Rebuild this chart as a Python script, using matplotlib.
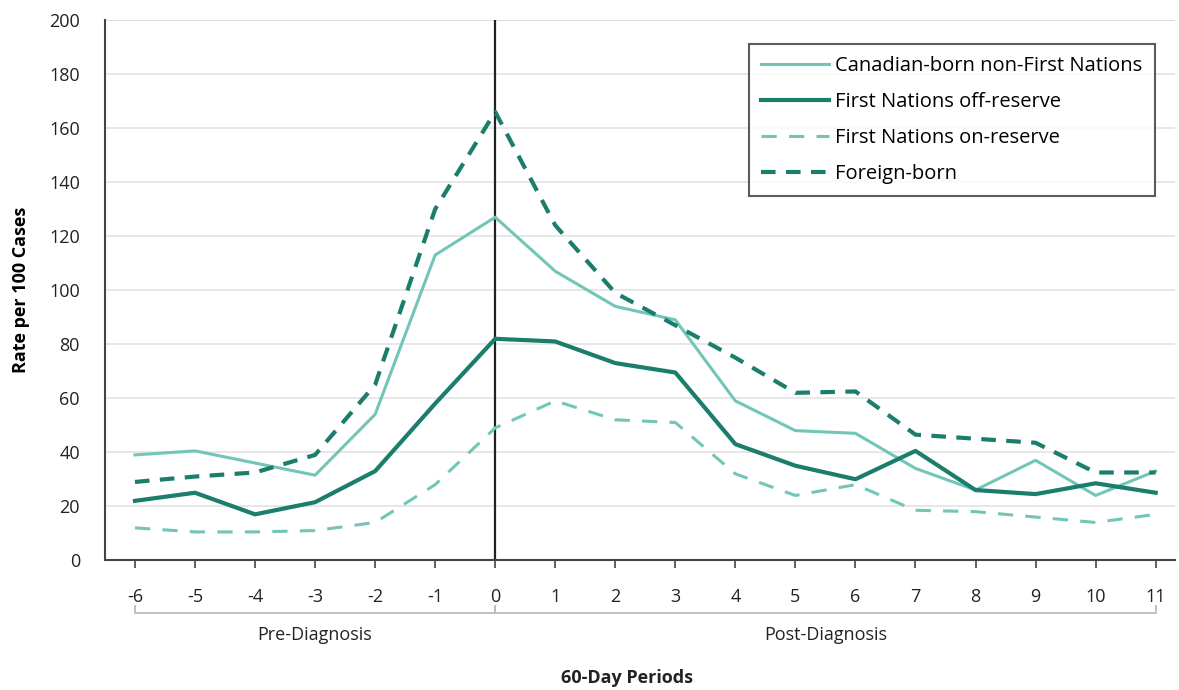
import matplotlib
matplotlib.use("Agg")
import matplotlib.pyplot as plt

periods = list(range(-6, 12))
canadian_born = [39, 40.5, 36, 31.5, 54, 113, 127, 107, 94, 89, 59, 48, 47, 34, 26, 37, 24, 33]
fn_off_reserve = [22, 25, 17, 21.5, 33, 58, 82, 81, 73, 69.5, 43, 35, 30, 40.5, 26, 24.5, 28.5, 25]
fn_on_reserve = [12, 10.5, 10.5, 11, 14, 28, 49, 59, 52, 51, 32, 24, 28, 18.5, 18, 16, 14, 17]
foreign_born = [29, 31, 32.5, 39, 65, 130, 166, 124, 99, 87, 75, 62, 62.5, 46.5, 45, 43.5, 32.5, 32.5]
yticks = list(range(0, 201, 20))

LIGHT = "#72c6b8"
DARK = "#1b7d6c"

plt.rcParams['font.family'] = ['Open Sans', 'DejaVu Sans']

fig = plt.figure(figsize=(11.79, 6.9), dpi=100)
ax = fig.add_axes([0.089, 0.188, 0.908, 0.783])

ax.plot(periods, canadian_born, color=LIGHT, lw=2.2, label="Canadian-born non-First Nations")
ax.plot(periods, fn_off_reserve, color=DARK, lw=3.0, label="First Nations off-reserve")
ax.plot(periods, fn_on_reserve, color=LIGHT, lw=2.2, ls=(0, (5, 4)), label="First Nations on-reserve")
ax.plot(periods, foreign_born, color=DARK, lw=3.0, ls=(0, (3.5, 2.5)), label="Foreign-born")

ax.axvline(0, color="#222222", lw=1.6, zorder=1)

ax.set_xlim(-6.5, 11.33)
ax.set_ylim(0, 200)
ax.set_yticks(yticks)
ax.set_xticks(periods)
ax.set_xticklabels([str(p) for p in periods])
ax.grid(axis='y', color="#e3e3e3", lw=1.2)
ax.set_axisbelow(True)

for s in ['top', 'right']:
    ax.spines[s].set_visible(False)
ax.spines['left'].set_color("#444444")
ax.spines['bottom'].set_color("#444444")
ax.spines['left'].set_linewidth(1.5)
ax.spines['bottom'].set_linewidth(1.5)
ax.axhline(200, color="#cccccc", lw=1.5, zorder=0)

ax.tick_params(axis='x', length=6, width=1.2, color="#444444", labelsize=13, pad=14, labelcolor="#222222")
ax.tick_params(axis='y', length=0, labelsize=13, pad=18, labelcolor="#222222")

ax.set_ylabel("Rate per 100 Cases", fontsize=13, fontweight='bold', labelpad=14)

# brackets
trans = ax.get_xaxis_transform()
yb = -0.097
tick = 0.013
for x0, x1 in [(-6, 0), (0, 11)]:
    ax.plot([x0, x0, x1, x1], [yb + tick, yb, yb, yb + tick], color="#bbbbbb", lw=1.3,
            transform=trans, clip_on=False)
ax.text(-3, -0.139, "Pre-Diagnosis", transform=trans, ha='center', va='center', fontsize=13, color="#222222")
ax.text(5.5, -0.139, "Post-Diagnosis", transform=trans, ha='center', va='center', fontsize=13, color="#222222")
ax.text(2.2, -0.217, "60-Day Periods", transform=trans, ha='center', va='center', fontsize=13,
        fontweight='bold', color="#222222")

leg = ax.legend(loc='upper right', bbox_to_anchor=(0.99, 0.975), fontsize=14.5, frameon=True,
                fancybox=False, edgecolor="#333333", handlelength=3.4, labelspacing=0.8,
                borderpad=0.6, handletextpad=0.3)
leg.get_frame().set_linewidth(1.5)

fig.savefig("out.png", dpi=100)
